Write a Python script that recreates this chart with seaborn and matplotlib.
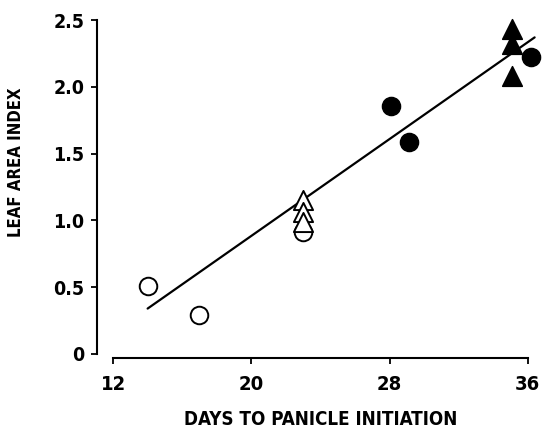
import numpy as np
import matplotlib
matplotlib.use("Agg")
import matplotlib.pyplot as plt
import seaborn as sns

# values
open_circle_x = [14.0, 17.0, 23.0]
open_circle_y = [0.51, 0.29, 0.91]
open_tri_x = [23.0, 23.0, 23.0]
open_tri_y = [1.15, 1.06, 0.99]
filled_circle_x = [28.1, 29.1, 36.2]
filled_circle_y = [1.86, 1.59, 2.22]
filled_tri_x = [35.1, 35.1, 35.1]
filled_tri_y = [2.43, 2.32, 2.08]

# fitted line end points
line_x = [14.0, 36.4]
line_y = [0.34, 2.37]

x_ticks = [12, 20, 28, 36]
y_ticks = [0, 0.5, 1.0, 1.5, 2.0, 2.5]
y_tick_labels = ["0", "0.5", "1.0", "1.5", "2.0", "2.5"]

sns.set_style("white")
plt.rcParams['font.family'] = ['DejaVu Sans']
plt.rcParams['font.stretch'] = 'condensed'
plt.rcParams['font.weight'] = 'bold'
plt.rcParams['text.color'] = 'black'
plt.rcParams['axes.labelcolor'] = 'black'
plt.rcParams['xtick.color'] = 'black'
plt.rcParams['ytick.color'] = 'black'

fig = plt.figure(figsize=(5.46, 4.34), dpi=100)
ax = fig.add_axes([97/546, 1 - 358/434, (545 - 97)/546, (358 - 14)/434])

sns.lineplot(x=line_x, y=line_y, color="black", linewidth=1.6, ax=ax)

sns.scatterplot(x=open_circle_x, y=open_circle_y, marker="o", s=160,
                facecolor="white", edgecolor="black", linewidth=1.4, ax=ax, zorder=3)
sns.scatterplot(x=open_tri_x, y=open_tri_y, marker="^", s=190,
                facecolor="white", edgecolor="black", linewidth=1.4, ax=ax, zorder=3)
sns.scatterplot(x=filled_circle_x, y=filled_circle_y, marker="o", s=170,
                color="black", edgecolor="black", ax=ax, zorder=3, clip_on=False)
sns.scatterplot(x=filled_tri_x, y=filled_tri_y, marker="^", s=200,
                color="black", edgecolor="black", ax=ax, zorder=3, clip_on=False)

ax.set_xlim(11.07, 37.0)
ax.set_ylim(-0.03, 2.545)

ax.set_xticks(x_ticks)
ax.set_xticklabels([str(t) for t in x_ticks], fontsize=14.5, fontweight="bold")
ax.set_yticks(y_ticks)
ax.set_yticklabels(y_tick_labels, fontsize=14, fontweight="bold")

for s in ["top", "right"]:
    ax.spines[s].set_visible(False)
ax.spines["left"].set_bounds(0, 2.5)
ax.spines["bottom"].set_bounds(12, 36)
ax.spines["left"].set_linewidth(1.5)
ax.spines["bottom"].set_linewidth(1.5)
ax.spines["left"].set_color("black")
ax.spines["bottom"].set_color("black")
ax.tick_params(axis="y", direction="out", length=4, width=1.3, color="black",
               left=True, pad=5)
ax.tick_params(axis="x", direction="out", length=4, width=1.3, color="black",
               bottom=True, pad=8)

ax.set_xlabel("DAYS TO PANICLE INITIATION", fontsize=13.5, fontweight="bold", labelpad=12)
ax.set_ylabel("LEAF AREA INDEX", fontsize=12, fontweight="bold")
ax.yaxis.set_label_coords(-0.16, 0.57)

fig.savefig("out.png", dpi=100, facecolor="white")
